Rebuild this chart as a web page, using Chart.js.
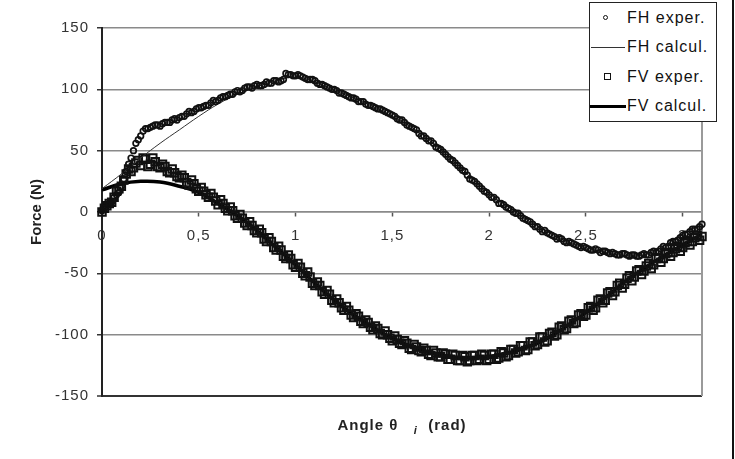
<!DOCTYPE html>
<html lang="fr">
<head>
<meta charset="UTF-8">
<title>Force (N) - Angle</title>
<script src="https://cdn.jsdelivr.net/npm/chart.js"></script>
<style>
    body { margin: 0; background: #fff; }
    #wrap { position: relative; width: 735px; height: 459px; font-family: "Liberation Sans", Arial, sans-serif; }
    #cadre { position: absolute; left: 732px; top: 0; width: 2px; height: 459px; background: #111; }
    #legende { position: absolute; left: 589px; top: 2px; width: 126px; height: 118px; border: 1px solid #222; background: #fff; }
    .ligne { position: relative; height: 29.5px; }
    .txt { position: absolute; left: 37px; top: 50%; transform: translateY(-50%); font-size: 16px; letter-spacing: 1px; color: #111; white-space: nowrap; }
    .symb { position: absolute; top: 50%; box-sizing: border-box; }
</style>
</head>
<body>
<div id="wrap">
    <canvas id="graphe" width="735" height="459"></canvas>
    <div id="cadre"></div>
    <div id="legende"></div>
</div>

<script>
    // mesures, 1er balayage (rad / N)
    var angleExp = [
        0, 0.025, 0.05, 0.075, 0.1, 0.125, 0.15, 0.175, 0.2, 0.225, 0.25, 0.275, 0.3, 0.325, 0.35, 0.375,
        0.4, 0.425, 0.45, 0.475, 0.5, 0.525, 0.55, 0.575, 0.6, 0.625, 0.65, 0.675, 0.7, 0.725, 0.75, 0.775,
        0.8, 0.825, 0.85, 0.875, 0.9, 0.925, 0.95, 0.975, 1, 1.025, 1.05, 1.075, 1.1, 1.125, 1.15, 1.175,
        1.2, 1.225, 1.25, 1.275, 1.3, 1.325, 1.35, 1.375, 1.4, 1.425, 1.45, 1.475, 1.5, 1.525, 1.55, 1.575,
        1.6, 1.625, 1.65, 1.675, 1.7, 1.725, 1.75, 1.775, 1.8, 1.825, 1.85, 1.875, 1.9, 1.925, 1.95, 1.975,
        2, 2.025, 2.05, 2.075, 2.1, 2.125, 2.15, 2.175, 2.2, 2.225, 2.25, 2.275, 2.3, 2.325, 2.35, 2.375,
        2.4, 2.425, 2.45, 2.475, 2.5, 2.525, 2.55, 2.575, 2.6, 2.625, 2.65, 2.675, 2.7, 2.725, 2.75, 2.775,
        2.8, 2.825, 2.85, 2.875, 2.9, 2.925, 2.95, 2.975, 3, 3.025, 3.05, 3.075, 3.1
    ]
    var fhExp = [
        1, 6, 8, 14, 21, 33, 44, 56, 62, 68, 69, 71, 70, 73, 73, 76,
        77, 78, 82, 82, 85, 86, 87, 91, 91, 94, 95, 96, 99, 99, 102, 101,
        104, 103, 106, 105, 107, 107, 113, 112, 111, 111, 109, 108, 107, 104, 103, 101,
        100, 97, 96, 94, 93, 90, 90, 87, 86, 84, 83, 81, 79, 76, 75, 71,
        69, 67, 62, 60, 58, 53, 51, 47, 43, 40, 36, 33, 27, 25, 21, 17,
        14, 12, 7, 6, 3, 0, -1, -5, -7, -10, -12, -16, -17, -19, -22, -22,
        -25, -25, -27, -29, -29, -31, -30, -33, -32, -34, -34, -35, -34, -36, -35, -36,
        -34, -35, -32, -32, -28, -28, -24, -23, -19, -18, -14, -14, -10
    ]
    var fvExp = [
        0, 5, 8, 17, 21, 31, 33, 40, 38, 43, 39, 41, 36, 37, 32, 32,
        28, 28, 22, 23, 17, 17, 12, 12, 6, 7, 1, 1, -5, -5, -11, -11,
        -17, -17, -24, -24, -31, -31, -38, -38, -45, -45, -52, -53, -60, -60, -67, -67,
        -74, -74, -80, -80, -86, -85, -91, -90, -96, -95, -100, -100, -105, -104, -108, -107,
        -112, -110, -114, -113, -117, -115, -118, -116, -120, -117, -121, -118, -121, -117, -120, -117,
        -120, -116, -119, -115, -117, -112, -114, -109, -112, -106, -108, -102, -105, -98, -100, -93,
        -95, -88, -90, -83, -84, -77, -78, -71, -72, -65, -65, -58, -59, -52, -53, -47,
        -48, -42, -43, -37, -38, -33, -33, -28, -29, -24, -24, -19, -20
    ]

    // mesures, 2e balayage
    var angleExp2 = [
        0.0125, 0.0375, 0.0625, 0.0875, 0.1125, 0.1375, 0.1625, 0.1875, 0.2125, 0.2375, 0.2625, 0.2875, 0.3125, 0.3375, 0.3625, 0.3875,
        0.4125, 0.4375, 0.4625, 0.4875, 0.5125, 0.5375, 0.5625, 0.5875, 0.6125, 0.6375, 0.6625, 0.6875, 0.7125, 0.7375, 0.7625, 0.7875,
        0.8125, 0.8375, 0.8625, 0.8875, 0.9125, 0.9375, 0.9625, 0.9875, 1.0125, 1.0375, 1.0625, 1.0875, 1.1125, 1.1375, 1.1625, 1.1875,
        1.2125, 1.2375, 1.2625, 1.2875, 1.3125, 1.3375, 1.3625, 1.3875, 1.4125, 1.4375, 1.4625, 1.4875, 1.5125, 1.5375, 1.5625, 1.5875,
        1.6125, 1.6375, 1.6625, 1.6875, 1.7125, 1.7375, 1.7625, 1.7875, 1.8125, 1.8375, 1.8625, 1.8875, 1.9125, 1.9375, 1.9625, 1.9875,
        2.0125, 2.0375, 2.0625, 2.0875, 2.1125, 2.1375, 2.1625, 2.1875, 2.2125, 2.2375, 2.2625, 2.2875, 2.3125, 2.3375, 2.3625, 2.3875,
        2.4125, 2.4375, 2.4625, 2.4875, 2.5125, 2.5375, 2.5625, 2.5875, 2.6125, 2.6375, 2.6625, 2.6875, 2.7125, 2.7375, 2.7625, 2.7875,
        2.8125, 2.8375, 2.8625, 2.8875, 2.9125, 2.9375, 2.9625, 2.9875, 3.0125, 3.0375, 3.0625, 3.0875
    ]
    var fhExp2 = [
        3, 6, 12, 16, 27, 39, 50, 59, 66, 68, 70, 71, 72, 73, 75, 75,
        78, 80, 81, 84, 85, 87, 89, 90, 93, 94, 96, 98, 98, 101, 102, 103,
        103, 104, 105, 107, 106, 108, 112, 111, 112, 110, 108, 108, 105, 104, 102, 100,
        99, 97, 95, 93, 92, 90, 88, 87, 85, 84, 82, 80, 78, 75, 73, 70,
        68, 64, 62, 58, 56, 52, 49, 45, 42, 38, 34, 30, 26, 23, 19, 16,
        12, 10, 7, 4, 2, -1, -3, -6, -8, -12, -14, -15, -18, -20, -21, -24,
        -24, -26, -28, -28, -30, -31, -31, -32, -33, -33, -35, -34, -35, -35, -36, -35,
        -35, -33, -33, -30, -29, -25, -24, -21, -18, -16, -14, -12
    ]
    var fvExp2 = [
        3, 7, 12, 19, 26, 35, 36, 42, 44, 37, 44, 37, 39, 33, 35, 29,
        30, 24, 26, 19, 20, 14, 15, 9, 10, 3, 4, -3, -2, -9, -8, -15,
        -14, -22, -21, -29, -28, -36, -35, -43, -42, -50, -49, -58, -57, -65, -64, -72,
        -71, -78, -77, -84, -83, -89, -88, -94, -93, -99, -97, -103, -101, -107, -105, -111,
        -108, -113, -111, -116, -113, -118, -115, -120, -116, -121, -117, -122, -117, -121, -116, -121,
        -116, -120, -114, -118, -112, -115, -109, -113, -106, -109, -102, -106, -99, -101, -94, -96,
        -89, -91, -84, -85, -78, -80, -72, -74, -66, -68, -60, -62, -54, -56, -48, -51,
        -44, -46, -38, -41, -34, -36, -30, -32, -25, -27, -21, -23
    ]

    // courbes calculees
    var angleCalc = [0, 0.1, 0.2, 0.3, 0.4, 0.5, 0.6, 0.7, 0.8, 0.9, 1, 1.1, 1.2, 1.3, 1.4, 1.5,
        1.6, 1.7, 1.8, 1.9, 2, 2.1, 2.2, 2.3, 2.4, 2.5, 2.6, 2.7, 2.8, 2.9, 3, 3.1]
    var fhCalc = [19, 31, 44, 56, 67, 78, 88, 96, 102, 107, 110, 106, 99, 93, 86, 78,
        69, 57.5, 44, 29, 15, 4, -7, -16, -24, -29, -33, -35.5, -35, -28, -18, -10]
    var fvCalc = [18, 23, 25, 24.5, 21, 16, 7, -3, -15, -29, -43, -58, -72, -84, -94, -103,
        -110, -115, -118, -119, -118, -115, -110, -103, -93, -82, -70, -57, -46, -36, -27, -18]

    var noms = ['FH exper.', 'FH calcul.', 'FV exper.', 'FV calcul.']
    var titreX = ['Angle θ   ', 'i', '  (rad)']
    var titreY = 'Force (N)'

    var police = '"Liberation Sans", Arial, sans-serif'
    Chart.defaults.font.family = police

    function points(xs, ys) {
        var res = []
        for (var i = 0; i < xs.length; i++) {
            res.push({ x: xs[i], y: ys[i] })
        }
        return res
    }

    var cadrePlugin = {
        id: 'cadre',
        beforeDraw: function (chart) {
            chart.ctx.letterSpacing = '1px'
        },
        beforeDatasetsDraw: function (chart) {
            var ctx = chart.ctx
            var a = chart.chartArea
            ctx.save()
            ctx.strokeStyle = '#9a9a9a'
            ctx.lineWidth = 2
            ctx.beginPath()
            ctx.moveTo(a.right, a.top)
            ctx.lineTo(a.right, a.bottom)
            ctx.stroke()
            ctx.restore()
        },
        afterDraw: function (chart) {
            var ctx = chart.ctx
            var a = chart.chartArea
            ctx.save()
            ctx.fillStyle = '#222'
            ctx.textAlign = 'left'
            ctx.textBaseline = 'alphabetic'
            ctx.letterSpacing = '1px'
            var grand = 'bold 15px ' + police
            var petit = 'italic bold 11px ' + police
            ctx.font = grand
            var w1 = ctx.measureText(titreX[0]).width
            var w3 = ctx.measureText(titreX[2]).width
            ctx.font = petit
            var w2 = ctx.measureText(titreX[1]).width
            var x = (a.left + a.right) / 2 - (w1 + w2 + w3) / 2
            var y = 430
            ctx.font = grand
            ctx.fillText(titreX[0], x, y)
            ctx.font = petit
            ctx.fillText(titreX[1], x + w1, y + 4)
            ctx.font = grand
            ctx.fillText(titreX[2], x + w1 + w2, y)

            ctx.letterSpacing = '0px'
            ctx.translate(41, (a.top + a.bottom) / 2)
            ctx.rotate(-Math.PI / 2)
            ctx.textAlign = 'center'
            ctx.fillText(titreY, 0, 0)
            ctx.restore()
        }
    }

    var graphe = new Chart(document.getElementById('graphe'), {
        type: 'scatter',
        data: {
            datasets: [{
                label: noms[0],
                data: points(angleExp.concat(angleExp2), fhExp.concat(fhExp2)),
                pointStyle: 'circle',
                pointRadius: 2.8,
                borderWidth: 1.7,
                borderColor: '#111',
                backgroundColor: 'rgba(0,0,0,0)',
                clip: 6
            }, {
                label: noms[1],
                data: points(angleCalc, fhCalc),
                showLine: true,
                pointRadius: 0,
                borderWidth: 1,
                borderColor: '#333',
                tension: 0.4
            }, {
                label: noms[2],
                data: points(angleExp.concat(angleExp2), fvExp.concat(fvExp2)),
                pointStyle: 'rect',
                pointRadius: 5.3,
                borderWidth: 2,
                borderColor: '#111',
                backgroundColor: 'rgba(0,0,0,0)',
                clip: 6
            }, {
                label: noms[3],
                data: points(angleCalc, fvCalc),
                showLine: true,
                pointRadius: 0,
                borderWidth: 3.5,
                borderColor: '#000',
                tension: 0.4
            }]
        },
        options: {
            responsive: false,
            animation: false,
            layout: { padding: { top: 28, right: 33, bottom: 63, left: 0 } },
            plugins: {
                legend: { display: false },
                tooltip: { enabled: false }
            },
            scales: {
                x: {
                    type: 'linear',
                    min: 0,
                    max: 3.1,
                    position: { y: 0 },
                    ticks: {
                        stepSize: 0.5,
                        includeBounds: false,
                        color: '#333',
                        font: { size: 15 },
                        padding: 11,
                        maxRotation: 0,
                        callback: function (v) { return String(v).replace('.', ',') }
                    },
                    grid: { drawOnChartArea: false, tickLength: 4, tickColor: '#555', tickWidth: 1.5 },
                    border: { color: '#8a8a8a', width: 1.5 }
                },
                y: {
                    min: -150,
                    max: 150,
                    ticks: { stepSize: 50, color: '#333', font: { size: 15 }, padding: 8 },
                    grid: {
                        color: function (c) { return c.tick && c.tick.value === -150 ? '#333' : '#8a8a8a' },
                        lineWidth: function (c) { return c.tick && c.tick.value === -150 ? 2 : 1.5 },
                        tickLength: 5,
                        tickColor: '#333',
                        tickWidth: 1.5
                    },
                    border: { color: '#222', width: 2 },
                    afterFit: function (s) { s.width = 102 }
                }
            }
        },
        plugins: [cadrePlugin]
    })

    // legende construite a partir des jeux de donnees
    var legende = document.getElementById('legende')
    graphe.data.datasets.forEach(function (ds) {
        var ligne = document.createElement('div')
        ligne.className = 'ligne'
        var s = document.createElement('span')
        s.className = 'symb'
        if (ds.showLine) {
            s.style.left = ds.borderWidth > 2 ? '0px' : '1px'
            s.style.width = ds.borderWidth > 2 ? '36px' : '34px'
            s.style.height = ds.borderWidth + 'px'
            s.style.marginTop = (-ds.borderWidth / 2) + 'px'
            s.style.background = ds.borderColor
        } else if (ds.pointStyle == 'rect') {
            s.style.left = '13.5px'
            s.style.width = '7px'
            s.style.height = '7px'
            s.style.marginTop = '-3.5px'
            s.style.border = '1px solid ' + ds.borderColor
        } else {
            s.style.left = '12.5px'
            s.style.width = '5px'
            s.style.height = '5px'
            s.style.marginTop = '-2.5px'
            s.style.border = '1px solid ' + ds.borderColor
            s.style.borderRadius = '50%'
        }
        var t = document.createElement('span')
        t.className = 'txt'
        t.textContent = ds.label
        ligne.appendChild(s)
        ligne.appendChild(t)
        legende.appendChild(ligne)
    })
</script>
</body>
</html>
